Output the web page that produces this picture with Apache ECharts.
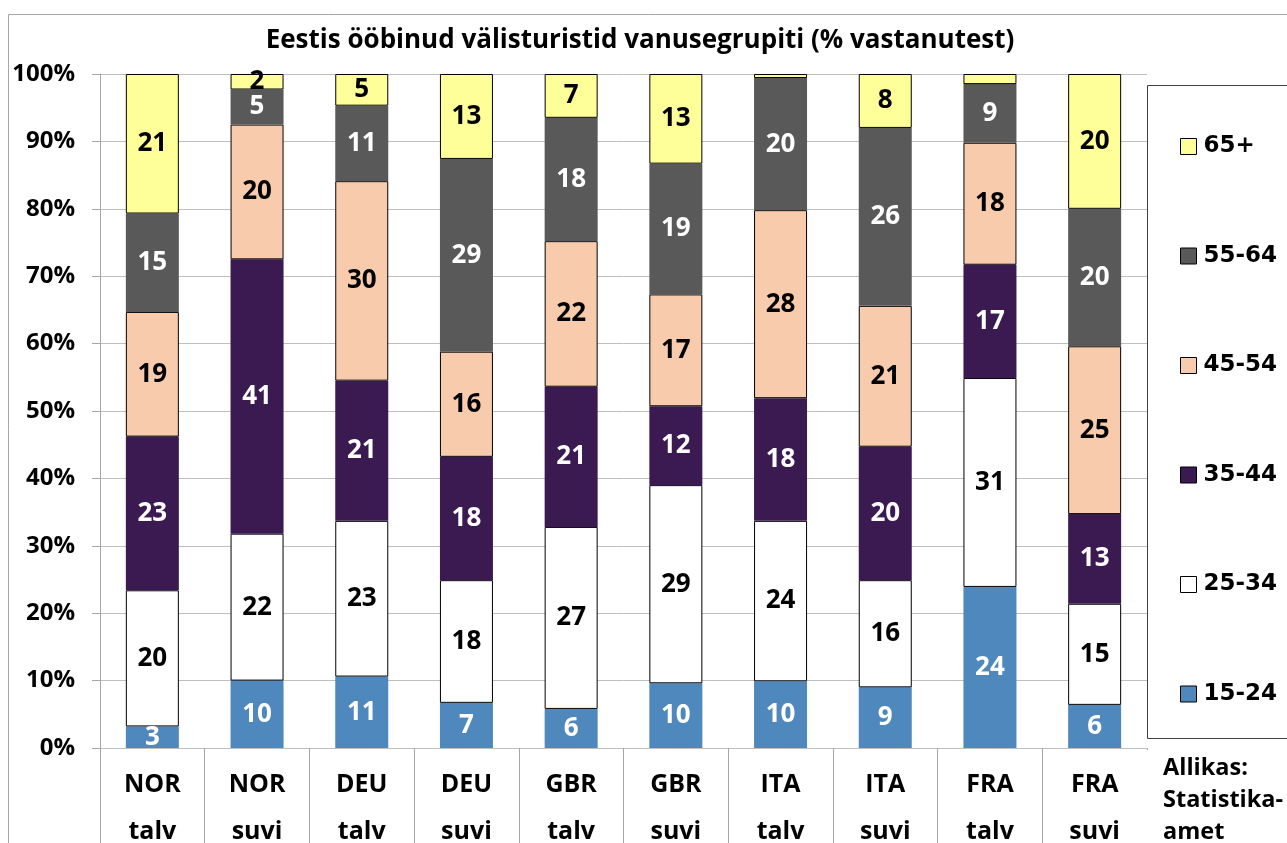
<!DOCTYPE html>
<html>
<head>
<meta charset="utf-8">
<script src="https://cdn.jsdelivr.net/npm/echarts@6/dist/echarts.min.js"></script>
<style>
html,body{margin:0;padding:0;background:#fff;}
#chart{width:1287px;height:843px;}
</style>
</head>
<body>
<div id="chart"></div>
<script>
const titleText = 'Eestis ööbinud välisturistid vanusegrupiti (% vastanutest)';
const categories = ['NOR talv','NOR suvi','DEU talv','DEU suvi','GBR talv','GBR suvi','ITA talv','ITA suvi','FRA talv','FRA suvi'];
const seriesNames = ['15-24','25-34','35-44','45-54','55-64','65+'];
const s15_24 = [3.2, 10.0, 10.6, 6.7, 5.8, 9.6, 9.9, 9.0, 23.9, 6.4];
const s25_34 = [20.2, 21.8, 23.1, 18.2, 27.0, 29.4, 23.8, 15.9, 31.0, 15.0];
const s35_44 = [22.8, 40.7, 20.8, 18.3, 20.8, 11.7, 18.2, 19.8, 16.8, 13.3];
const s45_54 = [18.5, 20.0, 29.6, 15.6, 21.6, 16.6, 27.9, 20.9, 18.1, 24.9];
const s55_64 = [14.6, 5.2, 11.2, 28.6, 18.3, 19.4, 19.6, 26.4, 8.7, 20.4];
const s65 = [20.7, 2.3, 4.7, 12.6, 6.5, 13.3, 0.6, 8.0, 1.5, 20.0];
const sourceText = 'Allikas:\nStatistika-\namet';

const seriesData = [s15_24, s25_34, s35_44, s45_54, s55_64, s65];
const fills = ['#4F88BD', '#FFFFFF', '#3B1A52', '#F8CBAD', '#595959', '#FFFF99'];
const labelColors = ['#fff', '#000', '#fff', '#000', '#fff', '#000'];
const bordered = [false, true, false, true, false, true];

const FONT = 'Open Sans';
const chart = echarts.init(document.getElementById('chart'));

const series = seriesNames.map((name, i) => ({
  name: name,
  type: 'bar',
  stack: 'total',
  barWidth: 53,
  data: seriesData[i],
  itemStyle: {
    color: fills[i],
    borderColor: bordered[i] ? '#000' : fills[i],
    borderWidth: bordered[i] ? 1 : 0
  },
  label: {
    show: true,
    position: 'inside',
    color: labelColors[i],
    fontFamily: FONT,
    fontWeight: 'bold',
    fontSize: 26,
    formatter: p => (p.value >= 2 ? String(Math.round(p.value)) : '')
  },
  emphasis: { disabled: true }
}));

chart.setOption({
  animation: false,
  backgroundColor: '#fff',
  title: {
    text: titleText,
    left: 635,
    textAlign: 'center',
    top: 23,
    textStyle: { fontFamily: FONT, fontWeight: 'bold', fontSize: 26, color: '#000' }
  },
  grid: { left: 100, top: 74, width: 1047, height: 674, containLabel: false, outerBoundsMode: 'none' },
  legend: {
    orient: 'vertical',
    left: 1175,
    top: 130,
    icon: 'rect',
    itemWidth: 16,
    itemHeight: 16,
    itemGap: 86.5,
    data: seriesNames.slice().reverse(),
    itemStyle: { borderColor: '#000', borderWidth: 1 },
    textStyle: { fontFamily: 'DejaVu Sans', fontWeight: 'bold', fontSize: 23, color: '#000', lineHeight: 22, padding: [0,0,0,2] },
    selectedMode: false
  },
  xAxis: {
    type: 'category',
    data: categories,
    axisLine: { show: false },
    axisTick: { show: true, length: 96, lineStyle: { color: '#A6A6A6', width: 1 } },
    axisLabel: {
      interval: 0,
      margin: 13,
      fontFamily: FONT,
      fontWeight: 'bold',
      fontSize: 25,
      color: '#000',
      lineHeight: 47,
      formatter: v => v.split(' ').join('\n')
    }
  },
  yAxis: {
    type: 'value',
    min: 0,
    max: 100,
    interval: 10,
    axisLine: { show: true, lineStyle: { color: '#A6A6A6' } },
    axisTick: { show: true, length: 8, lineStyle: { color: '#A6A6A6' } },
    splitLine: { show: true, lineStyle: { color: '#BFBFBF', width: 1 } },
    axisLabel: {
      margin: 25,
      fontFamily: FONT,
      fontWeight: 'bold',
      fontSize: 24,
      color: '#000',
      formatter: '{value}%'
    }
  },
  graphic: [
    { type: 'rect', silent: true, z: -10, shape: { x: 8.5, y: 14.5, width: 1400, height: 1000 }, style: { fill: 'none', stroke: '#A6A6A6', lineWidth: 1 } },
    { type: 'rect', silent: true, z: -5, shape: { x: 1147.5, y: 85.5, width: 200, height: 653 }, style: { fill: '#fff', stroke: '#404040', lineWidth: 1 } },
    { type: 'rect', silent: true, z: 100, shape: { x: 1145, y: 750, width: 5, height: 100 }, style: { fill: '#fff' } },
    { type: 'text', silent: true, z: 101, left: 1163, top: 752, style: { text: sourceText, fontFamily: FONT, fontWeight: 'bold', fontSize: 23.5, lineHeight: 32, fill: '#000' } }
  ],
  series: series
});
</script>
</body>
</html>
